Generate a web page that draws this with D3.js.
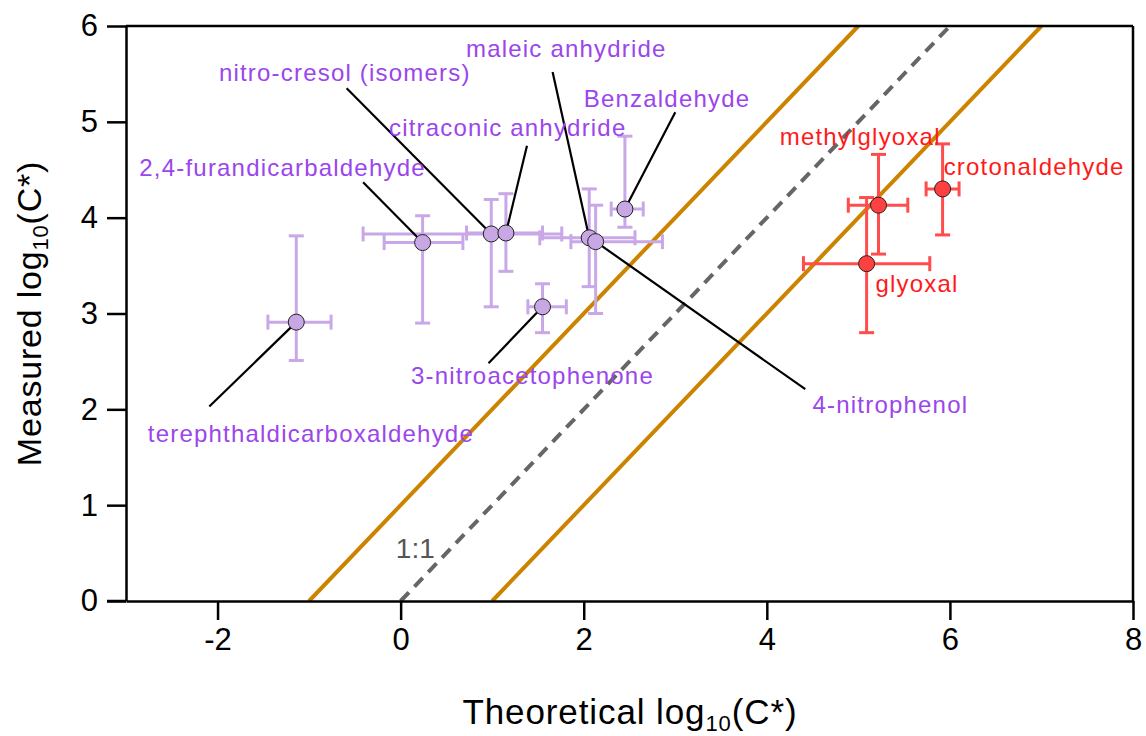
<!DOCTYPE html>
<html><head><meta charset="utf-8">
<script src="https://cdn.jsdelivr.net/npm/d3@7"></script>
<style>body{margin:0;background:#fff}svg{display:block}text{font-family:Arial,"Liberation Sans",sans-serif}</style>
</head><body><svg id="c" width="1146" height="736"></svg>
<script>
// ---- data ----
const purpleNames = ["2,4-furandicarbaldehyde","nitro-cresol (isomers)","citraconic anhydride","3-nitroacetophenone","maleic anhydride","4-nitrophenol","Benzaldehyde","terephthaldicarboxaldehyde"];
const purpleX    = [0.24, 0.99, 1.15, 1.55, 2.06, 2.13, 2.45, -1.14];
const purpleY    = [3.74, 3.83, 3.84, 3.07, 3.79, 3.75, 4.09, 2.91];
const purpleXlo  = [-0.18, -0.41, 0.72, 1.39, 1.52, 1.86, 2.30, -1.45];
const purpleXhi  = [0.68, 1.76, 1.55, 1.81, 2.56, 2.86, 2.65, -0.76];
const purpleYlo  = [2.90, 3.07, 3.44, 2.80, 3.28, 3.00, 3.90, 2.51];
const purpleYhi  = [4.02, 4.19, 4.25, 3.31, 4.30, 4.13, 4.85, 3.81];

const redNames = ["methylglyoxal","crotonaldehyde","glyoxal"];
const redX   = [5.22, 5.92, 5.09];
const redY   = [4.13, 4.30, 3.52];
const redXlo = [4.89, 5.74, 4.40];
const redXhi = [5.54, 6.10, 5.78];
const redYlo = [3.62, 3.82, 2.80];
const redYhi = [4.66, 4.77, 4.21];

const xTicks = [-2, 0, 2, 4, 6, 8];
const yTicks = [0, 1, 2, 3, 4, 5, 6];
const lineOffsets = [1, 0, -1]; // y = x + offset

// annotation placement (data units): label centre, leader start
const purpleLabelPos = [[-1.29,4.52,-0.41,4.37],[-0.61,5.51,-0.59,5.35],[1.17,4.94,1.38,4.75],[1.44,2.35,0.96,2.48],[1.81,5.77,1.66,5.52],[5.35,2.05,4.42,2.21],[2.91,5.24,3.00,5.10],[-0.98,1.75,-2.09,2.03]];
const redLabelPos = [[5.02,4.85],[6.92,4.53],[5.64,3.31]];

// ---- layout ----
const svg = d3.select("#c");
const m = {l:126, t:26, r:13, b:135};
const W = 1146, H = 736;
const x = d3.scaleLinear().domain([-3, 8]).range([m.l, W - m.r]);
const y = d3.scaleLinear().domain([0, 6]).range([H - m.b, m.t]);

const purpleFill = "#c8a8e4", purpleBar = "#c8a8e6", purpleText = "#9b45ec";
const redFill = "#ff4040", redBar = "#ff4d4d", redText = "#ff1a1a";

// reference lines
const gl = svg.append("g");
lineOffsets.forEach(o => {
  const x0 = 0 - o, x1 = 6 - o;
  gl.append("line").attr("x1", x(x0)).attr("y1", y(0)).attr("x2", x(x1)).attr("y2", y(6))
    .attr("stroke", o === 0 ? "#666" : "#cc8400")
    .attr("stroke-width", 4)
    .attr("stroke-dasharray", o === 0 ? "12,8" : null);
});
svg.append("text").attr("x", x(0.16)).attr("y", y(0.55)).attr("text-anchor","middle")
  .attr("dominant-baseline","central").attr("font-size", 28).attr("fill","#555").text("1:1");

// error bars
function bars(g, X, Y, Xlo, Xhi, Ylo, Yhi, col) {
  const cap = 7.5;
  X.forEach((v,i) => {
    const px = x(v), py = y(Y[i]);
    const s = (a) => g.append("line").attr("stroke", col).attr("stroke-width", 3).attr("x1",a[0]).attr("y1",a[1]).attr("x2",a[2]).attr("y2",a[3]);
    s([x(Xlo[i]), py, x(Xhi[i]), py]);
    s([x(Xlo[i]), py-cap, x(Xlo[i]), py+cap]);
    s([x(Xhi[i]), py-cap, x(Xhi[i]), py+cap]);
    s([px, y(Ylo[i]), px, y(Yhi[i])]);
    s([px-cap, y(Ylo[i]), px+cap, y(Ylo[i])]);
    s([px-cap, y(Yhi[i]), px+cap, y(Yhi[i])]);
  });
}
const gb = svg.append("g");
bars(gb, purpleX, purpleY, purpleXlo, purpleXhi, purpleYlo, purpleYhi, purpleBar);
bars(gb, redX, redY, redXlo, redXhi, redYlo, redYhi, redBar);

// leaders
const gld = svg.append("g");
purpleLabelPos.forEach((p,i) => {
  gld.append("line").attr("x1", x(p[2])).attr("y1", y(p[3])).attr("x2", x(purpleX[i])).attr("y2", y(purpleY[i]))
    .attr("stroke","#000").attr("stroke-width", 2.2);
});

// points
const gp = svg.append("g");
purpleX.forEach((v,i) => gp.append("circle").attr("cx", x(v)).attr("cy", y(purpleY[i])).attr("r", 8)
  .attr("fill", purpleFill).attr("stroke","#222").attr("stroke-width",1));
redX.forEach((v,i) => gp.append("circle").attr("cx", x(v)).attr("cy", y(redY[i])).attr("r", 8)
  .attr("fill", redFill).attr("stroke","#222").attr("stroke-width",1));

// labels
const gt = svg.append("g").attr("font-size", 24).attr("letter-spacing", 1.2).attr("text-anchor","middle").attr("dominant-baseline","central");
purpleLabelPos.forEach((p,i) => gt.append("text").attr("x", x(p[0])).attr("y", y(p[1])).attr("fill", purpleText).text(purpleNames[i]));
redLabelPos.forEach((p,i) => gt.append("text").attr("x", x(p[0])).attr("y", y(p[1])).attr("fill", redText).text(redNames[i]));

// frame
svg.append("line").attr("x1", x(-3)).attr("x2", x(8)).attr("y1", y(6)).attr("y2", y(6)).attr("stroke","#000").attr("stroke-width",2.5);
svg.append("line").attr("x1", x(8)).attr("x2", x(8)).attr("y1", y(0)).attr("y2", y(6)).attr("stroke","#000").attr("stroke-width",2.5);

// axes
const fmt = d => String(d);
const xa = svg.append("g").attr("transform", `translate(0,${y(0)})`)
  .call(d3.axisBottom(x).tickValues(xTicks).tickSize(19).tickSizeOuter(0).tickPadding(8).tickFormat(fmt));
const ya = svg.append("g").attr("transform", `translate(${x(-3)},0)`)
  .call(d3.axisLeft(y).tickValues(yTicks).tickSize(19).tickSizeOuter(0).tickPadding(9).tickFormat(fmt));
[xa, ya].forEach(a => {
  a.select(".domain").attr("stroke","#000").attr("stroke-width",2.5);
  a.selectAll(".tick line").attr("stroke","#000").attr("stroke-width",2.5);
  a.selectAll(".tick text").attr("font-size",31).attr("fill","#000").attr("font-family","Arial, 'Liberation Sans', sans-serif");
});
// extend x-axis line to left tick length
svg.append("line").attr("x1", x(-3)-19).attr("x2", x(-3)).attr("y1", y(0)).attr("y2", y(0)).attr("stroke","#000").attr("stroke-width",2.5);

// axis titles
const xt = svg.append("text").attr("x", 630).attr("y", 724).attr("text-anchor","middle").attr("font-size",35).attr("letter-spacing",0.9).attr("fill","#000");
xt.append("tspan").text("Theoretical log");
xt.append("tspan").attr("font-size",22).attr("dy",7).text("10");
xt.append("tspan").attr("dy",-7).text("(C*)");
const yt = svg.append("text").attr("transform", `translate(41,${(y(0)+y(6))/2}) rotate(-90)`).attr("text-anchor","middle").attr("font-size",34).attr("letter-spacing",0.8).attr("fill","#000");
yt.append("tspan").text("Measured log");
yt.append("tspan").attr("font-size",22).attr("dy",7).text("10");
yt.append("tspan").attr("dy",-7).text("(C*)");
</script></body></html>
